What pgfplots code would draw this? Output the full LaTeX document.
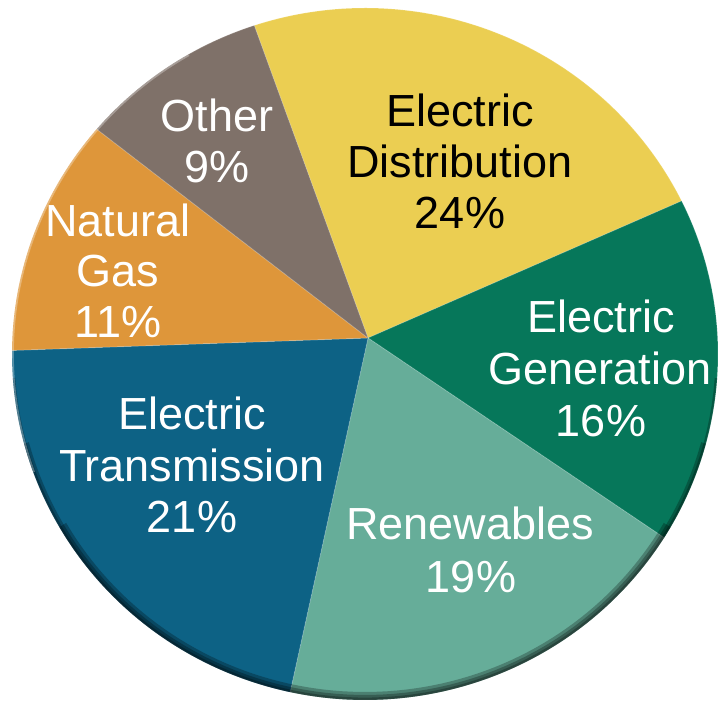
\documentclass[border=0pt]{standalone}
\usepackage{pgfplots}
\pgfplotsset{compat=1.18}
\usepackage{fontspec}
\setmainfont{Liberation Sans}

\definecolor{cdist}{HTML}{EBCE52}
\definecolor{cgen}{HTML}{06775A}
\definecolor{cren}{HTML}{66AD99}
\definecolor{ctra}{HTML}{0D6285}
\definecolor{cgas}{HTML}{DE963A}
\definecolor{coth}{HTML}{7F7169}

% shares in percent, clockwise from the top
\def\pDist{24}\def\pGen{16}\def\pRen{19}\def\pTra{21}\def\pGas{11}\def\pOth{9}
\pgfmathsetmacro\aO{110}
\pgfmathsetmacro\aA{\aO-3.6*\pDist}
\pgfmathsetmacro\aB{\aA-3.6*\pGen}
\pgfmathsetmacro\aC{\aB-3.6*\pRen}
\pgfmathsetmacro\aD{\aC-3.6*\pTra}
\pgfmathsetmacro\aE{\aD-3.6*\pGas}
\pgfmathsetmacro\aF{\aE-3.6*\pOth}

\newcommand{\lab}[4]{\node[anchor=base, text=#1, inner sep=0pt,
  font=\fontsize{22.5}{26}\selectfont] at (axis cs:#2,#3) {#4};}

\begin{document}
\begin{tikzpicture}
\begin{axis}[
    width=360pt, height=352pt, scale only axis, hide axis,
    xmin=0, xmax=720, ymin=0, ymax=704, y dir=reverse, clip=false,
    % apex of the tilted pie at (368,338), rim an ellipse round (365,354)
    declare function={
      kk(\t)=(cos(\t)/353)^2+(sin(\t)/346)^2;
      bb(\t)=0.0085*cos(\t)/353+0.04624*sin(\t)/346;
      rr(\t)=(-bb(\t)+sqrt(bb(\t)^2+0.99779*kk(\t)))/kk(\t);
    },
    slice/.style={draw=white, draw opacity=0.15, line width=0.5pt,
      samples=80, variable=\t},
    rim/.style={draw=black, draw opacity=0.26, samples=80, variable=\t},
]
\path (axis cs:0,0) rectangle (axis cs:720,704);

\addplot[slice, fill=cdist, domain=\aA:\aO]
  ({368+rr(\t)*cos(\t)}, {338-rr(\t)*sin(\t)}) -- (axis cs:368,338) -- cycle;
\addplot[slice, fill=cgen, domain=\aB:\aA]
  ({368+rr(\t)*cos(\t)}, {338-rr(\t)*sin(\t)}) -- (axis cs:368,338) -- cycle;
\addplot[slice, fill=cren, domain=\aC:\aB]
  ({368+rr(\t)*cos(\t)}, {338-rr(\t)*sin(\t)}) -- (axis cs:368,338) -- cycle;
\addplot[slice, fill=ctra, domain=\aD:\aC]
  ({368+rr(\t)*cos(\t)}, {338-rr(\t)*sin(\t)}) -- (axis cs:368,338) -- cycle;
\addplot[slice, fill=cgas, domain=\aE:\aD]
  ({368+rr(\t)*cos(\t)}, {338-rr(\t)*sin(\t)}) -- (axis cs:368,338) -- cycle;
\addplot[slice, fill=coth, domain=\aF:\aE]
  ({368+rr(\t)*cos(\t)}, {338-rr(\t)*sin(\t)}) -- (axis cs:368,338) -- cycle;

% darker side of the disc along the lower edge
\addplot[rim, line width=4pt, domain=-150:-30]
  ({365+349*cos(\t)}, {354-342*sin(\t)});
\addplot[rim, line width=2.5pt, domain=-165:-15]
  ({365+350.5*cos(\t)}, {354-343.5*sin(\t)});
\addplot[rim, line width=1.2pt, domain=-176:-4]
  ({365+351.8*cos(\t)}, {354-344.8*sin(\t)});
% light edge on the left
\addplot[draw=white, draw opacity=0.3, line width=0.8pt, samples=60,
  variable=\t, domain=120:200]
  ({365+352*cos(\t)}, {354-345*sin(\t)});

\lab{black}{460}{127}{Electric}
\lab{black}{460}{178}{Distribution}
\lab{black}{460}{229}{24\%}

\lab{white}{601}{333}{Electric}
\lab{white}{600}{385}{Generation}
\lab{white}{601}{437}{16\%}

\lab{white}{470}{540}{Renewables}
\lab{white}{471}{593}{19\%}

\lab{white}{192}{430}{Electric}
\lab{white}{192}{482}{Transmission}
\lab{white}{192}{533}{21\%}

\lab{white}{118}{237}{Natural}
\lab{white}{118}{287}{Gas}
\lab{white}{118}{338}{11\%}

\lab{white}{217}{132}{Other}
\lab{white}{217}{183}{9\%}
\end{axis}
\end{tikzpicture}
\end{document}
